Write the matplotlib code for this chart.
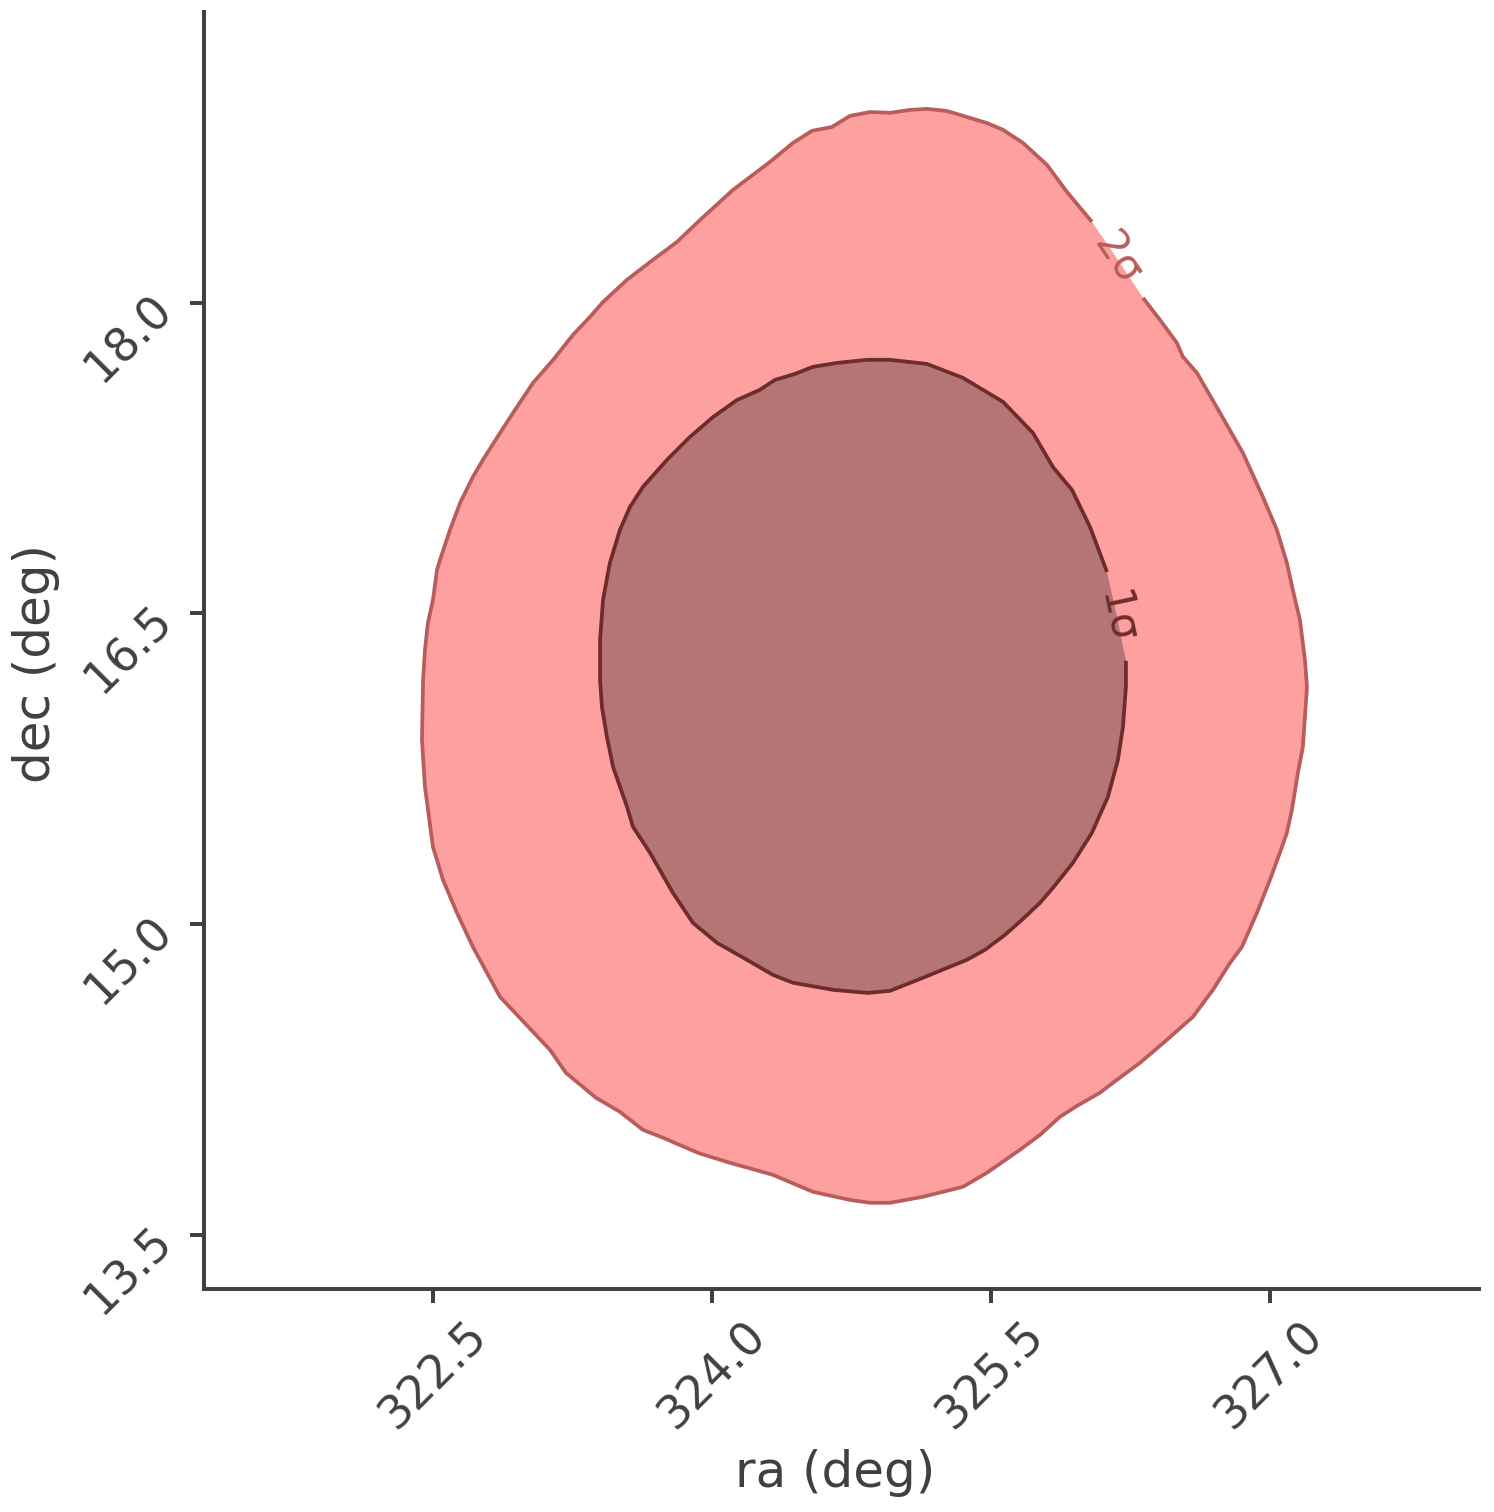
import numpy as np
import matplotlib
matplotlib.use('Agg')
import matplotlib.pyplot as plt

# 2 sigma contour, traced clockwise; starts right after the label gap and ends right before it
ra_2sig = [326.317, 326.408, 326.499, 326.532, 326.607, 326.731, 326.854, 326.962, 327.037, 327.091,
           327.123, 327.161, 327.188, 327.199, 327.188, 327.177, 327.150, 327.118, 327.091, 327.053,
           327.000, 326.930, 326.849, 326.785, 326.693, 326.586, 326.446, 326.301, 326.155, 326.085,
           325.962, 325.870, 325.763, 325.655, 325.477, 325.348, 325.133, 324.956, 324.848, 324.740,
           324.541, 324.326, 324.095, 323.923, 323.735, 323.627, 323.503, 323.374, 323.213, 323.127,
           322.858, 322.712, 322.626, 322.551, 322.497, 322.454, 322.438, 322.444, 322.454, 322.470,
           322.497, 322.519, 322.535, 322.589, 322.643, 322.712, 322.766, 322.858, 322.928, 323.035,
           323.143, 323.250, 323.342, 323.412, 323.541, 323.665, 323.810, 323.934, 324.111, 324.310,
           324.434, 324.536, 324.644, 324.740, 324.848, 324.956, 325.063, 325.155, 325.262, 325.370,
           325.477, 325.564, 325.671, 325.800, 325.908, 326.042]
dec_2sig = [18.023, 17.917, 17.806, 17.738, 17.661, 17.468, 17.275, 17.062, 16.903, 16.744,
            16.613, 16.469, 16.276, 16.145, 16.000, 15.856, 15.730, 15.552, 15.441, 15.344,
            15.214, 15.055, 14.890, 14.813, 14.683, 14.553, 14.442, 14.331, 14.234, 14.186,
            14.123, 14.070, 13.983, 13.911, 13.800, 13.732, 13.684, 13.655, 13.655, 13.669,
            13.708, 13.790, 13.848, 13.896, 13.969, 14.007, 14.094, 14.162, 14.282, 14.393,
            14.649, 14.890, 15.055, 15.214, 15.373, 15.663, 15.889, 16.179, 16.324, 16.454,
            16.565, 16.710, 16.758, 16.903, 17.033, 17.159, 17.241, 17.371, 17.468, 17.612,
            17.723, 17.844, 17.931, 18.003, 18.110, 18.196, 18.293, 18.399, 18.544, 18.679,
            18.771, 18.829, 18.848, 18.901, 18.920, 18.916, 18.930, 18.935, 18.925, 18.896,
            18.867, 18.834, 18.771, 18.665, 18.534, 18.390]

# 1 sigma contour, same convention
ra_1sig = [326.225, 326.225, 326.209, 326.182, 326.128, 326.042, 325.940, 325.832, 325.763, 325.666,
           325.574, 325.467, 325.370, 325.133, 324.956, 324.837, 324.649, 324.434, 324.326, 324.186,
           324.025, 323.896, 323.788, 323.665, 323.573, 323.541, 323.466, 323.433, 323.406, 323.396,
           323.396, 323.412, 323.449, 323.503, 323.557, 323.627, 323.756, 323.880, 324.004, 324.133,
           324.256, 324.337, 324.445, 324.541, 324.671, 324.832, 324.956, 325.155, 325.348, 325.564,
           325.725, 325.832, 325.935, 326.032, 326.123]
dec_1sig = [16.271, 16.145, 15.952, 15.793, 15.614, 15.441, 15.296, 15.175, 15.103, 15.021,
            14.948, 14.876, 14.828, 14.741, 14.678, 14.668, 14.683, 14.717, 14.755, 14.828,
            14.910, 15.006, 15.151, 15.344, 15.470, 15.566, 15.759, 15.904, 16.049, 16.179,
            16.372, 16.565, 16.744, 16.903, 17.014, 17.111, 17.241, 17.352, 17.448, 17.530,
            17.579, 17.627, 17.656, 17.690, 17.709, 17.724, 17.724, 17.704, 17.637, 17.521,
            17.371, 17.207, 17.096, 16.917, 16.700]

# contour labels
label_text = ['2σ', '1σ']
label_ra = [326.179, 326.177]
label_dec = [18.211, 16.483]

x_ticks = [322.5, 324.0, 325.5, 327.0]
y_ticks = [13.5, 15.0, 16.5, 18.0]

fill_colors = ['#ffa0a0', '#b57575']
line_colors = ['#b95c5c', '#6e2c2c']
text_color = '#404040'

fig = plt.figure(figsize=(9.96, 10.08), dpi=150)
ax = fig.add_axes([0.1365, 0.1475, 0.8534, 0.8446])
ax.set_xlim(321.265, 328.124)
ax.set_ylim(13.239, 19.403)

contours = [(ra_2sig, dec_2sig), (ra_1sig, dec_1sig)]
for i, (ra, dec) in enumerate(contours):
    # fill closes through the label point, line leaves the gap open
    ax.fill(list(ra) + [label_ra[i]], list(dec) + [label_dec[i]], color=fill_colors[i], lw=0, zorder=1 + i)
    ax.plot(ra, dec, color=line_colors[i], lw=1.8, zorder=1.5 + i, solid_capstyle='butt')

    # rotate label along the gap direction (screen space)
    p0 = ax.transData.transform((ra[-1], dec[-1]))
    p1 = ax.transData.transform((ra[0], dec[0]))
    ang = np.degrees(np.arctan2(p1[1] - p0[1], p1[0] - p0[0]))
    ax.text(label_ra[i], label_dec[i], label_text[i], rotation=ang, rotation_mode='anchor',
            ha='center', va='center', fontsize=20, color=line_colors[i], zorder=3 + i)

for s in ['top', 'right']:
    ax.spines[s].set_visible(False)
for s in ['left', 'bottom']:
    ax.spines[s].set_linewidth(1.9)
    ax.spines[s].set_color(text_color)

ax.set_xticks(x_ticks)
ax.set_yticks(y_ticks)
ax.set_xticklabels([f'{v:.1f}' for v in x_ticks], rotation=45)
ax.set_yticklabels([f'{v:.1f}' for v in y_ticks], rotation=45, rotation_mode='anchor', ha='right', va='center')
ax.tick_params(axis='both', direction='out', length=6.5, width=1.9, color=text_color,
               labelcolor=text_color, labelsize=22)
ax.tick_params(axis='x', pad=5)
ax.tick_params(axis='y', pad=12)

ax.set_xlabel('ra (deg)', fontsize=24, color=text_color)
ax.set_ylabel('dec (deg)', fontsize=24, color=text_color)
ax.xaxis.set_label_coords(0.495, -0.125)
ax.yaxis.set_label_coords(-0.113, 0.49)

fig.savefig('out.png', dpi=150)
